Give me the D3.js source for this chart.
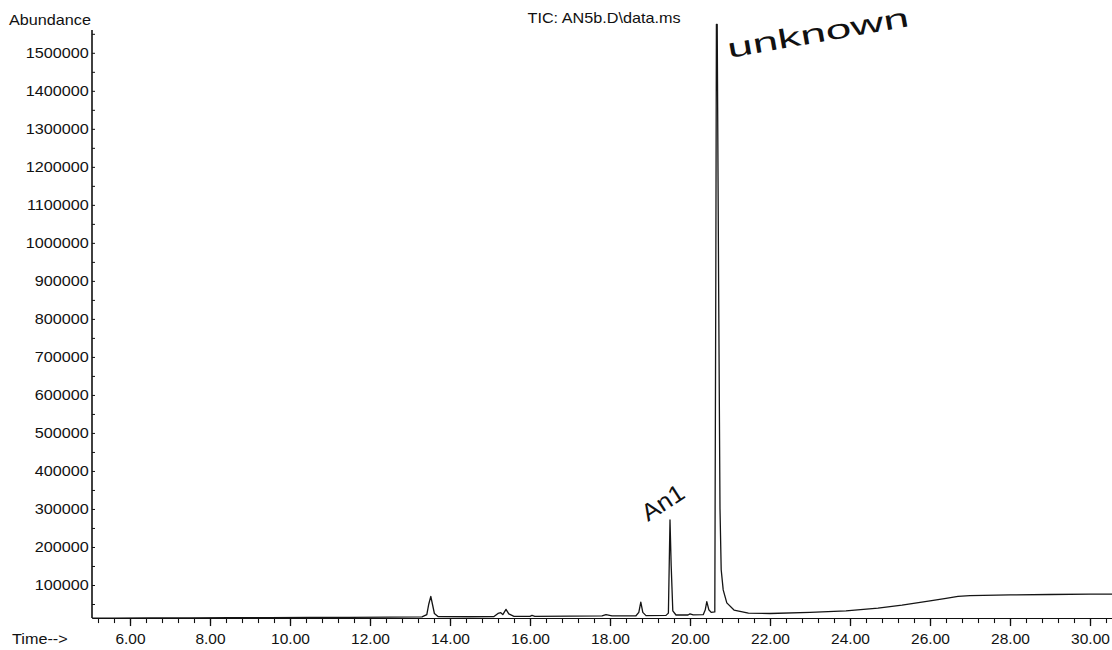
<!DOCTYPE html>
<html>
<head>
<meta charset="utf-8">
<script src="https://cdn.jsdelivr.net/npm/d3@7"></script>
<style>
  html, body { margin: 0; padding: 0; background: #fff; }
  svg { display: block; }
  text { font-family: "Liberation Sans", Arial, sans-serif; fill: #111; }
</style>
</head>
<body>
<svg id="chart" width="1112" height="650"></svg>
<script>
// ---- data ----
const times = [5.05, 5.6, 6.5, 7.5, 8.5, 9.5, 10.5, 11.5, 12.5, 13.3, 13.42, 13.47, 13.52, 13.56, 13.61, 13.7,
  14.5, 15.1, 15.2, 15.27, 15.32, 15.4, 15.47, 15.6, 16.0, 16.05, 16.12, 17.0, 17.8, 17.9, 18.05,
  18.65, 18.72, 18.77, 18.82, 18.9, 19.4, 19.46, 19.5, 19.53, 19.57, 19.65, 19.95, 20.0, 20.08,
  20.33, 20.38, 20.42, 20.47, 20.53, 20.62, 20.645, 20.66, 20.68, 20.715, 20.75, 20.78, 20.83, 20.92,
  21.1, 21.46, 22.0, 23.0, 23.9, 24.7, 25.3, 26.0, 26.4, 26.7, 27.0, 28.0, 29.0, 30.0, 30.55];
const abundance = [13000, 13000, 13500, 13500, 14000, 14000, 14500, 15000, 15500, 16000, 22000, 50000, 70000, 50000, 25000, 17000,
  16500, 17000, 25000, 27000, 22000, 36000, 24000, 17500, 17500, 20000, 17500, 18000, 18500, 22000, 19000,
  19000, 28000, 55000, 28000, 19500, 20000, 26000, 271000, 150000, 32000, 21000, 21000, 24000, 21500,
  22000, 34000, 56000, 35000, 28000, 29000, 900000, 1575000, 1575000, 900000, 300000, 140000, 87000, 53000,
  34000, 26000, 25000, 28000, 32000, 39000, 47000, 58000, 65000, 70000, 72000, 74000, 75000, 76000, 76000];
const yTickLabels = [100000, 200000, 300000, 400000, 500000, 600000, 700000, 800000, 900000, 1000000,
  1100000, 1200000, 1300000, 1400000, 1500000];
const xTickLabels = [6, 8, 10, 12, 14, 16, 18, 20, 22, 24, 26, 28, 30];
const xMinorTicks = [5.2, 5.6, 6.0, 6.4, 6.8, 7.2, 7.6, 8.0, 8.4, 8.8, 9.2, 9.6, 10.0, 10.4, 10.8, 11.2, 11.6, 12.0,
  12.4, 12.8, 13.2, 13.6, 14.0, 14.4, 14.8, 15.2, 15.6, 16.0, 16.4, 16.8, 17.2, 17.6, 18.0, 18.4, 18.8, 19.2,
  19.6, 20.0, 20.4, 20.8, 21.2, 21.6, 22.0, 22.4, 22.8, 23.2, 23.6, 24.0, 24.4, 24.8, 25.2, 25.6, 26.0, 26.4,
  26.8, 27.2, 27.6, 28.0, 28.4, 28.8, 29.2, 29.6, 30.0, 30.4];
const yMinorTicks = [50000, 100000, 150000, 200000, 250000, 300000, 350000, 400000, 450000, 500000, 550000,
  600000, 650000, 700000, 750000, 800000, 850000, 900000, 950000, 1000000, 1050000, 1100000, 1150000,
  1200000, 1250000, 1300000, 1350000, 1400000, 1450000, 1500000, 1550000];
const titleText = "TIC: AN5b.D\\data.ms";
const axisMinValue = 13000;
const yMaxValue = 1560000;

// ---- layout ----
const svg = d3.select("#chart");
const plotLeft = 92, plotRight = 1112, plotTop = 30;
const x = d3.scaleLinear().domain([5.05, 30.55]).range([plotLeft, plotRight]);
const y = d3.scaleLinear().domain([0, yMaxValue]).range([623, plotTop]);
const axisY = y(axisMinValue);

// trace
const pts = times.map((t, i) => [t, abundance[i]]);
svg.append("path")
  .datum(pts)
  .attr("fill", "none")
  .attr("stroke", "#151515")
  .attr("stroke-width", 1.3)
  .attr("stroke-linejoin", "round")
  .attr("d", d3.line().x(d => x(d[0])).y(d => y(d[1])));

// x axis minor ticks
const gxMinor = svg.append("g").attr("transform", `translate(0,${axisY})`)
  .call(d3.axisBottom(x).tickValues(xMinorTicks).tickSize(5).tickSizeOuter(0).tickFormat(""));
gxMinor.select(".domain").attr("stroke", "#111").attr("stroke-width", 1.1);
gxMinor.selectAll(".tick line").attr("stroke", "#111").attr("stroke-width", 1.1);

// x axis major ticks with labels
const gx = svg.append("g").attr("transform", `translate(0,${axisY})`)
  .call(d3.axisBottom(x).tickValues(xTickLabels).tickSize(8).tickSizeOuter(0).tickPadding(7).tickFormat(d3.format(".2f")));
gx.select(".domain").remove();
gx.selectAll(".tick line").attr("stroke", "#111").attr("stroke-width", 1.3);
gx.selectAll(".tick text")
  .attr("font-family", "'Liberation Sans', Arial, sans-serif")
  .attr("font-size", 15.5).attr("fill", "#111");

// y axis
const gyMinor = svg.append("g").attr("transform", `translate(${plotLeft},0)`)
  .call(d3.axisRight(y).tickValues(yMinorTicks).tickSize(3).tickSizeOuter(0).tickFormat(""));
gyMinor.select(".domain").remove();
gyMinor.selectAll(".tick line").attr("stroke", "#111");
svg.append("line")
  .attr("x1", plotLeft).attr("x2", plotLeft).attr("y1", plotTop).attr("y2", axisY)
  .attr("stroke", "#111").attr("stroke-width", 1.6);

const gy = svg.append("g").attr("transform", `translate(${plotLeft},0)`)
  .call(d3.axisLeft(y).tickValues(yTickLabels).tickSize(0).tickPadding(3).tickFormat(d3.format("d")));
gy.select(".domain").remove();
gy.selectAll(".tick text")
  .attr("font-family", "'Liberation Sans', Arial, sans-serif")
  .attr("font-size", 15).attr("fill", "#111")
  .attr("transform", "scale(1.08,1)");

// labels
svg.append("text")
  .attr("transform", "translate(9,25) scale(1.08,1)")
  .attr("font-size", 15).text("Abundance");
svg.append("text")
  .attr("transform", "translate(12,644) scale(1.08,1)")
  .attr("font-size", 15).text("Time-->");
svg.append("text")
  .attr("transform", "translate(604,23) scale(1.08,1)")
  .attr("text-anchor", "middle")
  .attr("font-size", 15).text(titleText);

// handwritten annotations
svg.append("text")
  .attr("transform", "translate(729,58) rotate(-10)")
  .attr("font-family", "Inter, 'DejaVu Sans', sans-serif")
  .attr("font-size", 27).attr("font-weight", 200)
  .attr("fill", "#444")
  .attr("textLength", 184).attr("lengthAdjust", "spacingAndGlyphs")
  .text("unknown");
svg.append("text")
  .attr("transform", "translate(648,522) rotate(-33)")
  .attr("font-family", "Inter, 'DejaVu Sans', sans-serif")
  .attr("font-size", 24).attr("font-weight", 200)
  .attr("fill", "#444")
  .attr("textLength", 46).attr("lengthAdjust", "spacingAndGlyphs")
  .text("An1");
</script>
</body>
</html>
